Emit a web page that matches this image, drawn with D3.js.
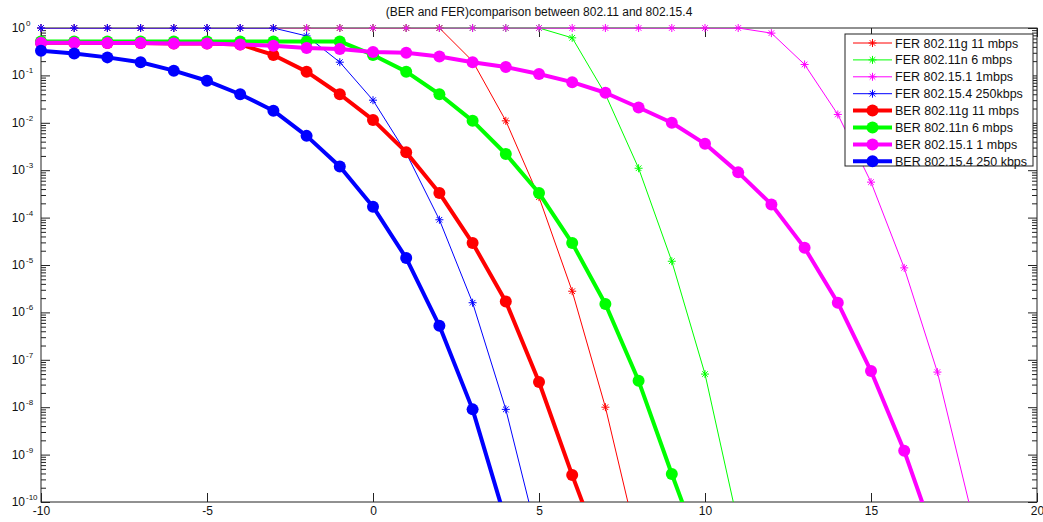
<!DOCTYPE html>
<html>
<head>
<meta charset="utf-8">
<script src="https://cdn.jsdelivr.net/npm/d3@7"></script>
<style>
  body { margin: 0; background: #fff; }
  text { font-family: "Liberation Sans", Arial, sans-serif; fill: #111; }
</style>
</head>
<body>
<svg id="chart" width="1043" height="522"></svg>
<script>
// SNR (dB) on the x axis
const snr = [-10, -9, -8, -7, -6, -5, -4, -3, -2, -1, 0, 1, 2, 3, 4, 5, 6, 7, 8, 9, 10,
  11, 12, 13, 14, 15, 16, 17, 18, 19, 20];

// FER curves (values start at snr = -10)
const ferG11 = [1, 1, 1, 1, 1, 1, 1, 1, 1, 1, 1, 1, 1, 0.2, 0.011, 2.7e-4, 2.8e-6, 1e-8, 1.1e-11];
const ferN6 = [1, 1, 1, 1, 1, 1, 1, 1, 1, 1, 1, 1, 1, 1, 1, 1, 0.62, 0.04, 1.1e-3, 1.2e-5, 5e-8, 3.4e-11];
const ferBt = [1, 1, 1, 1, 1, 1, 1, 1, 1, 1, 1, 1, 1, 1, 1, 1, 1, 1, 1, 1, 1, 1,
  0.78, 0.17, 0.015, 5.6e-4, 8.7e-6, 5.5e-8, 7e-11];
const ferZb = [1, 1, 1, 1, 1, 1, 1, 1, 0.68, 0.19, 0.03, 0.0023, 9e-5, 1.6e-6, 9e-9, 1.4e-11];

// BER curves
const berG11 = [0.49, 0.49, 0.48, 0.48, 0.47, 0.47, 0.45, 0.27, 0.12, 0.04, 0.0115, 0.0024,
  3.3e-4, 2.9e-5, 1.7e-6, 3.4e-8, 3.7e-10, 5e-12];
const berN6 = [0.52, 0.52, 0.52, 0.52, 0.52, 0.52, 0.52, 0.52, 0.52, 0.52, 0.27, 0.12, 0.04,
  0.011, 0.0022, 3.3e-4, 2.9e-5, 1.5e-6, 3.6e-8, 3.9e-10, 5e-12];
const berBt = [0.49, 0.49, 0.48, 0.48, 0.47, 0.47, 0.45, 0.42, 0.38, 0.36, 0.31, 0.30, 0.25,
  0.19, 0.15, 0.107, 0.072, 0.043, 0.021, 0.01, 0.0036, 9e-4, 1.9e-4, 2.3e-5, 1.6e-6,
  5.8e-8, 1.2e-9, 1.2e-11];
const berZb = [0.33, 0.29, 0.24, 0.19, 0.126, 0.077, 0.04, 0.018, 0.0053, 0.0012, 1.7e-4,
  1.4e-5, 5.2e-7, 9e-9, 4e-11];

const seriesNames = ["FER 802.11g 11 mbps", "FER 802.11n 6 mbps", "FER 802.15.1 1mbps",
  "FER 802.15.4 250kbps", "BER 802.11g 11 mbps", "BER 802.11n 6 mbps",
  "BER 802.15.1 1 mbps", "BER 802.15.4 250 kbps"];
const seriesValues = [ferG11, ferN6, ferBt, ferZb, berG11, berN6, berBt, berZb];
const seriesColors = ["#ff0000", "#00ff00", "#ff00ff", "#0000ff",
  "#ff0000", "#00ff00", "#ff00ff", "#0000ff"];

const xTicks = [-10, -5, 0, 5, 10, 15, 20];
const yExponents = [0, -1, -2, -3, -4, -5, -6, -7, -8, -9, -10];
const title = "(BER and FER)comparison between 802.11 and 802.15.4";

const svg = d3.select("#chart");
const plotL = 41, plotR = 1037, plotT = 28, plotB = 502;

const x = d3.scaleLinear().domain([-10, 20]).range([plotL, plotR]);
const y = d3.scaleLog().domain([1e-10, 1]).range([plotB, plotT]);

// minor log ticks 2..9 per decade
const majorY = yExponents.map((e) => Math.pow(10, e));
const minorY = [];
majorY.slice(1).forEach((m) => {
  for (let k = 2; k <= 9; k++) minorY.push(m * k);
});

svg.append("rect").attr("x", 0).attr("y", 0).attr("width", 1043).attr("height", 522).attr("fill", "#fff");

svg.append("defs").append("clipPath").attr("id", "plotClip")
  .append("rect").attr("x", plotL).attr("y", plotT).attr("width", plotR - plotL).attr("height", plotB - plotT);

// axes (ticks pointing inward, MATLAB style)
const styleAxis = (g) => {
  g.selectAll(".domain").remove();
  g.selectAll(".tick line").attr("stroke", "#222");
};

svg.append("g").attr("transform", `translate(0,${plotB})`)
  .call(d3.axisBottom(x).tickValues(xTicks).tickSizeInner(-9).tickSizeOuter(0).tickPadding(4)
    .tickFormat((d) => String(d)))
  .call(styleAxis)
  .call((g) => g.selectAll("text").attr("font-size", 12).attr("fill", "#111")
    .style("font-family", "'Liberation Sans', Arial, sans-serif"));

svg.append("g").attr("transform", `translate(0,${plotT})`)
  .call(d3.axisTop(x).tickValues(xTicks).tickSizeInner(-9).tickSizeOuter(0).tickFormat(""))
  .call(styleAxis);

svg.append("g").attr("transform", `translate(${plotL},0)`)
  .call(d3.axisLeft(y).tickValues(majorY).tickSizeInner(-9).tickSizeOuter(0).tickFormat(""))
  .call(styleAxis);
svg.append("g").attr("transform", `translate(${plotL},0)`)
  .call(d3.axisLeft(y).tickValues(minorY).tickSizeInner(-5).tickSizeOuter(0).tickFormat(""))
  .call(styleAxis);
svg.append("g").attr("transform", `translate(${plotR},0)`)
  .call(d3.axisRight(y).tickValues(majorY).tickSizeInner(-9).tickSizeOuter(0).tickFormat(""))
  .call(styleAxis);
svg.append("g").attr("transform", `translate(${plotR},0)`)
  .call(d3.axisRight(y).tickValues(minorY).tickSizeInner(-5).tickSizeOuter(0).tickFormat(""))
  .call(styleAxis);

// y labels as 10 with superscript exponent
const yLab = svg.append("g").selectAll("g").data(yExponents).enter().append("g");
yLab.append("text")
  .attr("x", 25).attr("y", (e) => y(Math.pow(10, e)) + 4)
  .attr("text-anchor", "end").attr("font-size", 12)
  .text("10");
yLab.append("text")
  .attr("x", 26).attr("y", (e) => y(Math.pow(10, e)) - 2)
  .attr("font-size", 8)
  .text((e) => e);

// plot box
svg.append("rect")
  .attr("x", plotL).attr("y", plotT).attr("width", plotR - plotL).attr("height", plotB - plotT)
  .attr("fill", "none").attr("stroke", "#222").attr("stroke-width", 1);

// star marker like matlab '*'
const star = {
  draw(ctx, size) {
    const r = Math.sqrt(size) / 2;
    const d = r * 0.7;
    ctx.moveTo(-r, 0); ctx.lineTo(r, 0);
    ctx.moveTo(0, -r); ctx.lineTo(0, r);
    ctx.moveTo(-d, -d); ctx.lineTo(d, d);
    ctx.moveTo(-d, d); ctx.lineTo(d, -d);
  }
};
const starPath = d3.symbol().type(star).size(64)();

const line = d3.line().x((d) => x(d[0])).y((d) => y(d[1]));

seriesValues.forEach((vals, i) => {
  const pts = vals.map((v, j) => [snr[j], v]);
  const isBer = i >= 4;
  const color = seriesColors[i];
  const g = svg.append("g");

  g.append("path")
    .attr("clip-path", "url(#plotClip)")
    .attr("d", line(pts))
    .attr("fill", "none")
    .attr("stroke", color)
    .attr("stroke-width", isBer ? 4 : 1)
    .attr("stroke-linejoin", "round");

  // only markers inside the y range
  const shown = pts.filter((p) => p[1] >= 1e-10);
  if (isBer) {
    g.selectAll("circle").data(shown).enter().append("circle")
      .attr("cx", (d) => x(d[0])).attr("cy", (d) => y(d[1]))
      .attr("r", 6).attr("fill", color);
  } else {
    g.selectAll("path.mk").data(shown).enter().append("path")
      .attr("class", "mk")
      .attr("transform", (d) => `translate(${x(d[0])},${y(d[1])})`)
      .attr("d", starPath)
      .attr("stroke", color).attr("stroke-width", 1).attr("fill", "none");
  }
});

// title
svg.append("text")
  .attr("x", (plotL + plotR) / 2).attr("y", 16)
  .attr("text-anchor", "middle").attr("font-size", 12)
  .text(title);

// legend
const legend = svg.append("g");
legend.append("rect")
  .attr("x", 845).attr("y", 34).attr("width", 188).attr("height", 132)
  .attr("fill", "#fff").attr("stroke", "#222").attr("stroke-width", 1);

const items = legend.selectAll("g.item").data(seriesNames).enter().append("g")
  .attr("class", "item")
  .attr("transform", (d, i) => `translate(0,${43 + i * 16.9})`);

items.append("line")
  .attr("x1", 853).attr("x2", 892).attr("y1", 0).attr("y2", 0)
  .attr("stroke", (d, i) => seriesColors[i])
  .attr("stroke-width", (d, i) => (i >= 4 ? 4 : 1));
items.each(function (d, i) {
  const it = d3.select(this);
  if (i >= 4) {
    it.append("circle").attr("cx", 872.5).attr("cy", 0).attr("r", 6).attr("fill", seriesColors[i]);
  } else {
    it.append("path").attr("transform", "translate(872.5,0)").attr("d", starPath)
      .attr("stroke", seriesColors[i]).attr("fill", "none");
  }
});
items.append("text")
  .attr("x", 895).attr("y", 4.5)
  .attr("font-size", 12.5)
  .text((d) => d);
</script>
</body>
</html>
